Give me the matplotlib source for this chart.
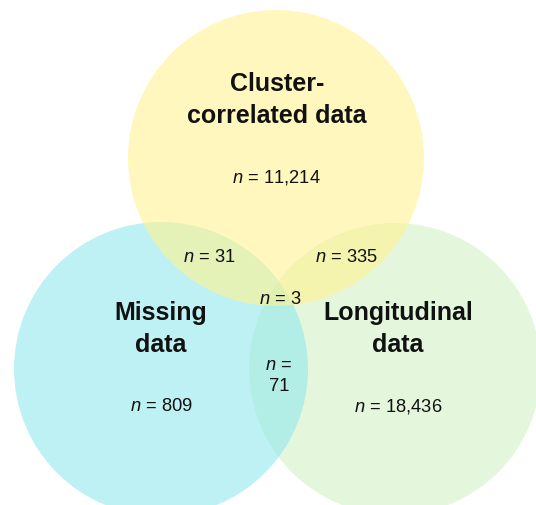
import matplotlib
matplotlib.use("Agg")
import matplotlib.pyplot as plt
from matplotlib.patches import Circle

plt.rcParams['font.family'] = ['Liberation Sans', 'DejaVu Sans']
plt.rcParams['mathtext.fontset'] = 'custom'
plt.rcParams['mathtext.rm'] = 'Liberation Sans'
plt.rcParams['mathtext.it'] = 'Liberation Sans:italic'

# sets and region counts
set_names = ["Cluster-\ncorrelated data", "Missing\ndata", "Longitudinal\ndata"]
only_counts = [11214, 809, 18436]
pair_labels = ["cluster & missing", "cluster & longitudinal", "missing & longitudinal"]
pair_counts = [31, 335, 71]
all_three = 3

# circle layout in pixel coords (x, y, r) and fill colours
circles = [(276, 159, 148), (161, 370, 147), (395, 370, 146)]
colors = ["#fff391", "#93e9ee", "#d2f2c5"]
txt_color = "#111111"

fig = plt.figure(figsize=(5.36, 5.06), dpi=100)
ax = fig.add_axes([0, 0, 1, 1])
ax.set_xlim(0, 536)
ax.set_ylim(506, 0)
ax.set_aspect('equal')
ax.axis('off')

# draw green, cyan, then yellow on top
for i in [2, 1, 0]:
    x, y, r = circles[i]
    ax.add_patch(Circle((x, y), r, facecolor=colors[i], alpha=0.6, edgecolor='none'))

def ntext(v):
    return r"$\it{n}$ = " + f"{v:,}"

name_pos = [(277, 100), (161, 329), (398, 329)]
count_pos = [(276, 177), (161, 407), (398, 407)]
for i in range(3):
    ax.text(*name_pos[i], set_names[i], ha='center', va='center', fontsize=18,
            fontweight='bold', linespacing=1.4, color=txt_color)
    ax.text(*count_pos[i], ntext(only_counts[i]), ha='center', va='center',
            fontsize=13.2, color=txt_color)

ax.text(209, 257, ntext(pair_counts[0]), ha='center', va='center', fontsize=13.2, color=txt_color)
ax.text(346, 257, ntext(pair_counts[1]), ha='center', va='center', fontsize=13.2, color=txt_color)
ax.text(279, 365, r"$\it{n}$ =", ha='center', va='center', fontsize=13.2, color=txt_color)
ax.text(279, 387, f"{pair_counts[2]}", ha='center', va='center', fontsize=13.2, color=txt_color)
ax.text(280, 300, ntext(all_three), ha='center', va='center', fontsize=13.2, color=txt_color)

fig.savefig("out.png", dpi=100)
